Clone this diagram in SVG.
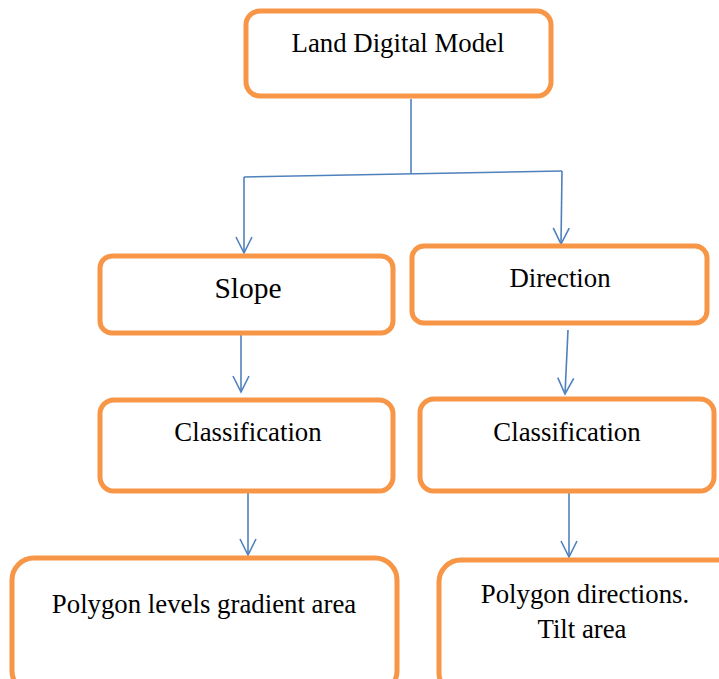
<svg xmlns="http://www.w3.org/2000/svg" width="719" height="679" viewBox="0 0 719 679">
<defs>
<style>
.box{fill:#fff;stroke:#F79646;stroke-width:5}
.t{font-family:"Liberation Serif","Times New Roman",serif;font-size:26.8px;fill:#000;text-anchor:middle}
.c{fill:none;stroke:#4F81BD;stroke-width:1.6}
</style>
<marker id="a" viewBox="0 0 20 20" refX="18" refY="10" markerWidth="20" markerHeight="20" markerUnits="userSpaceOnUse" orient="auto">
<path d="M2,2 L18,10 L2,18" fill="none" stroke="#4F81BD" stroke-width="1.6"/>
</marker>
</defs>
<rect width="719" height="679" fill="#fff"/>
<g id="connectors">
<path class="c" d="M411,99 L411,174"/>
<path class="c" d="M244,177 L562,171"/>
<path class="c" d="M244,177 L244,253" marker-end="url(#a)"/>
<path class="c" d="M562,171 L561,244" marker-end="url(#a)"/>
<path class="c" d="M241,335 L241,392" marker-end="url(#a)"/>
<path class="c" d="M568,330 L565,394" marker-end="url(#a)"/>
<path class="c" d="M248,493 L248,555" marker-end="url(#a)"/>
<path class="c" d="M569,491 L569,557" marker-end="url(#a)"/>
</g>
<g id="n-ldm"><rect class="box" x="246" y="11" width="305" height="85" rx="14"/><text class="t" x="398" y="52">Land Digital Model</text></g>
<g id="n-slope"><rect class="box" x="100" y="256" width="293" height="77" rx="12"/><text class="t" x="248" y="298" style="font-size:29.5px">Slope</text></g>
<g id="n-direction"><rect class="box" x="412" y="246" width="295" height="77" rx="12"/><text class="t" x="560" y="287">Direction</text></g>
<g id="n-class-l"><rect class="box" x="100" y="400" width="293" height="91" rx="14"/><text class="t" x="248" y="441">Classification</text></g>
<g id="n-class-r"><rect class="box" x="420" y="399" width="294" height="92" rx="14"/><text class="t" x="567" y="441">Classification</text></g>
<g id="n-poly-l"><rect class="box" x="12" y="558" width="385" height="135" rx="22"/><text class="t" x="204" y="613">Polygon levels gradient area</text></g>
<g id="n-poly-r"><rect class="box" x="439" y="560" width="300" height="135" rx="22"/><text class="t" x="585" y="603">Polygon directions.</text><text class="t" x="582" y="638">Tilt area</text></g>
</svg>
